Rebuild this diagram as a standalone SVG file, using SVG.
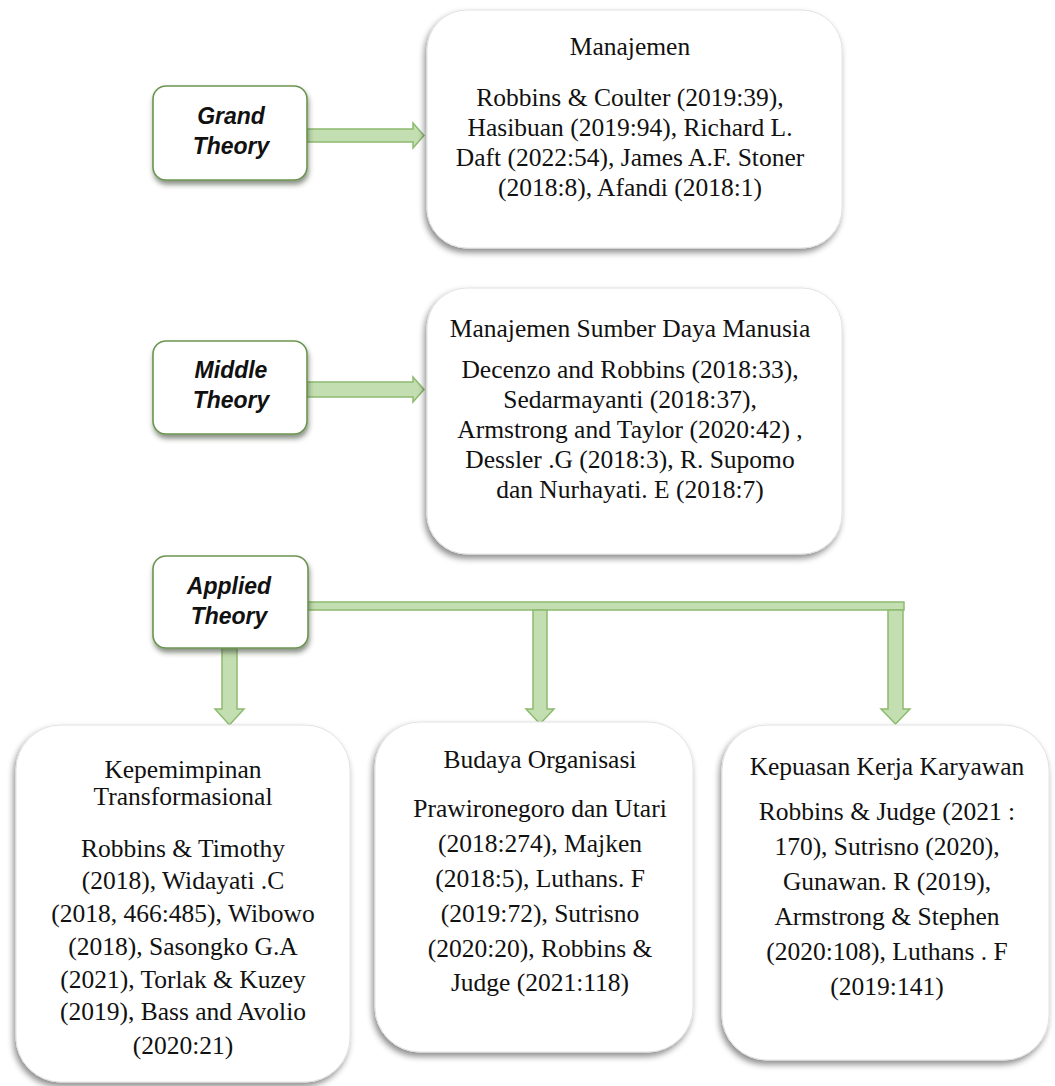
<svg xmlns="http://www.w3.org/2000/svg" width="1055" height="1086" viewBox="0 0 1055 1086">
<defs>
<filter id="shTheory" x="-20%" y="-20%" width="140%" height="150%">
<feDropShadow dx="1" dy="4" stdDeviation="2.5" flood-color="#2f3a28" flood-opacity="0.55"/>
</filter>
<filter id="shBox" x="-10%" y="-10%" width="120%" height="120%">
<feDropShadow dx="-2" dy="4" stdDeviation="3" flood-color="#000" flood-opacity="0.45"/>
</filter>
<style>
.theory{fill:#ffffff;stroke:#6b9550;stroke-width:1.6;filter:url(#shTheory)}
.box{fill:#ffffff;stroke:#e2e2e2;stroke-width:1;filter:url(#shBox)}
.tl{font-family:"Liberation Sans",Arial,sans-serif;font-weight:bold;font-style:italic;font-size:23px;fill:#111;text-anchor:middle}
.tx{font-family:"Liberation Serif","Times New Roman",serif;font-size:25.5px;fill:#111;text-anchor:middle}
.arr{fill:#c3deb0;stroke:#8dbb6f;stroke-width:1.5;stroke-linejoin:miter}
</style>
</defs>
<rect width="1055" height="1086" fill="#ffffff"/>

<g id="connectors">
<polygon class="arr" points="307,129 413,129 413,123 424,135.5 413,148 413,142 307,142"/>
<polygon class="arr" points="307,382 413,382 413,377 424,389.5 413,402 413,397 307,397"/>
<rect class="arr" x="308" y="602" width="596" height="8"/>
<polygon class="arr" points="222,648 237,648 237,709 244,709 229.5,725 215,709 222,709"/>
<polygon class="arr" points="533,610 547,610 547,709 554,709 540,724 526,709 533,709"/>
<polygon class="arr" points="888,610 903,610 903,709 910,709 895.5,724 881,709 888,709"/>
</g>

<g id="grand-theory">
<rect class="theory" x="153" y="86" width="154" height="94" rx="13"/>
<text class="tl" x="231" y="124">Grand</text>
<text class="tl" x="231" y="154">Theory</text>
</g>

<g id="manajemen">
<rect class="box" x="427" y="10" width="415" height="238" rx="40"/>
<text class="tx" x="630" y="55">Manajemen</text>
<text class="tx" x="630" y="106">Robbins &amp; Coulter (2019:39),</text>
<text class="tx" x="630" y="136">Hasibuan (2019:94), Richard L.</text>
<text class="tx" x="630" y="166">Daft (2022:54), James A.F. Stoner</text>
<text class="tx" x="630" y="196">(2018:8), Afandi (2018:1)</text>
</g>

<g id="middle-theory">
<rect class="theory" x="153" y="341" width="154" height="93" rx="13"/>
<text class="tl" x="231" y="378">Middle</text>
<text class="tl" x="231" y="408">Theory</text>
</g>

<g id="msdm">
<rect class="box" x="427" y="288" width="415" height="266" rx="40"/>
<text class="tx" x="630" y="337">Manajemen Sumber Daya Manusia</text>
<text class="tx" x="630" y="378">Decenzo and Robbins (2018:33),</text>
<text class="tx" x="630" y="408">Sedarmayanti (2018:37),</text>
<text class="tx" x="630" y="438">Armstrong and Taylor (2020:42) ,</text>
<text class="tx" x="630" y="468">Dessler .G (2018:3), R. Supomo</text>
<text class="tx" x="630" y="498">dan Nurhayati. E (2018:7)</text>
</g>

<g id="applied-theory">
<rect class="theory" x="153" y="556" width="155" height="92" rx="13"/>
<text class="tl" x="229" y="594">Applied</text>
<text class="tl" x="229" y="624">Theory</text>
</g>

<g id="kepemimpinan">
<rect class="box" x="16" y="725" width="334" height="357" rx="45"/>
<text class="tx" x="183" y="778">Kepemimpinan</text>
<text class="tx" x="183" y="805">Transformasional</text>
<text class="tx" x="183" y="857">Robbins &amp; Timothy</text>
<text class="tx" x="183" y="889">(2018), Widayati .C</text>
<text class="tx" x="183" y="922">(2018, 466:485), Wibowo</text>
<text class="tx" x="183" y="955">(2018), Sasongko G.A</text>
<text class="tx" x="183" y="988">(2021), Torlak &amp; Kuzey</text>
<text class="tx" x="183" y="1020">(2019), Bass and Avolio</text>
<text class="tx" x="183" y="1054">(2020:21)</text>
</g>

<g id="budaya">
<rect class="box" x="375" y="722" width="318" height="330" rx="45"/>
<text class="tx" x="540" y="768">Budaya Organisasi</text>
<text class="tx" x="540" y="817">Prawironegoro dan Utari</text>
<text class="tx" x="540" y="852">(2018:274), Majken</text>
<text class="tx" x="540" y="887">(2018:5),  Luthans. F</text>
<text class="tx" x="540" y="922">(2019:72), Sutrisno</text>
<text class="tx" x="540" y="957">(2020:20),  Robbins &amp;</text>
<text class="tx" x="540" y="991">Judge (2021:118)</text>
</g>

<g id="kepuasan">
<rect class="box" x="722" y="725" width="327" height="335" rx="45"/>
<text class="tx" x="887" y="775">Kepuasan Kerja Karyawan</text>
<text class="tx" x="887" y="820">Robbins &amp; Judge (2021 :</text>
<text class="tx" x="887" y="855">170), Sutrisno (2020),</text>
<text class="tx" x="887" y="890">Gunawan. R (2019),</text>
<text class="tx" x="887" y="925">Armstrong &amp; Stephen</text>
<text class="tx" x="887" y="960">(2020:108), Luthans . F</text>
<text class="tx" x="887" y="995">(2019:141)</text>
</g>
</svg>
